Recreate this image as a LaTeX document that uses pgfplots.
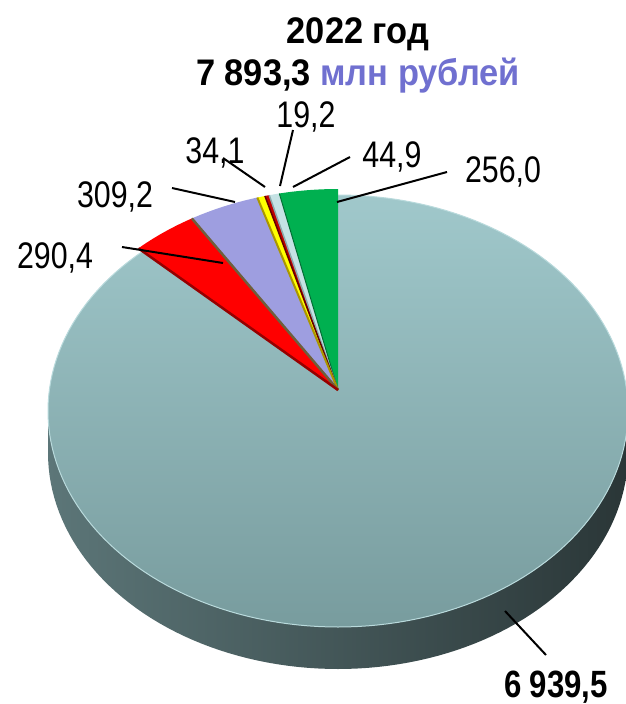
\documentclass[border=0pt]{standalone}
\usepackage{pgfplots}
\pgfplotsset{compat=1.18}
\usepackage{fontspec}
\setmainfont{Liberation Sans}[FakeStretch=0.82]
\newfontfamily\titlefont{Liberation Sans}[FakeStretch=0.93]
\definecolor{topT}{RGB}{160,200,203}
\definecolor{topB}{RGB}{120,156,158}
\definecolor{rim}{RGB}{185,218,220}
\definecolor{sideL}{RGB}{92,118,120}
\definecolor{sideM}{RGB}{46,59,60}
\definecolor{sideR}{RGB}{42,54,55}
\definecolor{cGreen}{RGB}{0,176,80}
\definecolor{eGreen}{RGB}{0,110,50}
\definecolor{cLight}{RGB}{197,226,228}
\definecolor{eLight}{RGB}{140,170,172}
\definecolor{cDRed}{RGB}{192,0,0}
\definecolor{eDRed}{RGB}{100,0,0}
\definecolor{cYel}{RGB}{255,255,0}
\definecolor{eYel}{RGB}{170,150,0}
\definecolor{cLav}{RGB}{158,158,224}
\definecolor{eLav}{RGB}{110,95,60}
\definecolor{cRed}{RGB}{255,0,0}
\definecolor{eRed}{RGB}{150,0,0}
\definecolor{titleblue}{RGB}{112,112,208}
\begin{document}
\begin{tikzpicture}
% values (counter-clockwise from 12 o'clock)
\def\vA{256.0}\def\vB{44.9}\def\vC{19.2}\def\vD{34.1}\def\vE{309.2}\def\vF{290.4}\def\vG{6939.5}
\pgfmathsetmacro\total{\vA+\vB+\vC+\vD+\vE+\vF+\vG}
\pgfmathsetmacro\aA{90}
\pgfmathsetmacro\aB{\aA+(\vA/\total)*360}
\pgfmathsetmacro\aC{\aB+(\vB/\total)*360}
\pgfmathsetmacro\aD{\aC+(\vC/\total)*360}
\pgfmathsetmacro\aE{\aD+(\vD/\total)*360}
\pgfmathsetmacro\aF{\aE+(\vE/\total)*360}
\pgfmathsetmacro\aG{\aF+(\vF/\total)*360}
\begin{axis}[name=ax,width=625pt,height=704pt,scale only axis,
  xmin=0,xmax=625,ymin=0,ymax=704,y dir=reverse,hide axis,clip=false]
% side of the big slice
\addplot[draw=none,left color=sideL,middle color=sideM,right color=sideR,
  domain=0:360,samples=181,variable=\s]
  ({338+290*cos(ifthenelse(\s<=180,180+\s,540-\s))},
   {411-216*sin(ifthenelse(\s<=180,180+\s,540-\s))+42*(\s>180)}) -- cycle;
% top face of big slice
\addplot[draw=rim,line width=1pt,top color=topT,bottom color=topB,
  domain=0:360,samples=181] ({338+290*cos(x)},{411-216*sin(x)}) -- cycle;
% small slices
\addplot[fill=cGreen,draw=none,domain=\aA:\aB,samples=20] ({338+290*cos(x)},{405-216*sin(x)}) -- (axis cs:338,390) -- cycle;
\addplot[fill=cLight,draw=none,domain=\aB:\aC,samples=6] ({338+290*cos(x)},{405-216*sin(x)}) -- (axis cs:338,390) -- cycle;
\addplot[fill=cDRed,draw=none,domain=\aC:\aD,samples=4] ({338+290*cos(x)},{405-216*sin(x)}) -- (axis cs:338,390) -- cycle;
\addplot[fill=cYel,draw=none,domain=\aD:\aE,samples=4] ({338+290*cos(x)},{405-216*sin(x)}) -- (axis cs:338,390) -- cycle;
\addplot[fill=cLav,draw=none,domain=\aE:\aF,samples=20] ({338+290*cos(x)},{405-216*sin(x)}) -- (axis cs:338,390) -- cycle;
\addplot[fill=cRed,draw=none,domain=\aF:\aG,samples=20] ({338+290*cos(x)},{405-216*sin(x)}) -- (axis cs:338,390) -- cycle;
% dark side edges of small slices
\addplot[draw=eGreen,line width=1pt,domain=0:1,samples=2] ({338+x*290*cos(\aB)},{390+x*(15-216*sin(\aB))});
\addplot[draw=eLight,line width=1.5pt,domain=0:1,samples=2] ({338+x*290*cos(\aC)},{390+x*(15-216*sin(\aC))});
\addplot[draw=eDRed,line width=1.5pt,domain=0:1,samples=2] ({338+x*290*cos(\aD)},{390+x*(15-216*sin(\aD))});
\addplot[draw=eYel,line width=2pt,domain=0:1,samples=2] ({338+x*290*cos(\aE)},{390+x*(15-216*sin(\aE))});
\addplot[draw=eLav,line width=2.5pt,domain=0:1,samples=2] ({338+x*290*cos(\aF)},{390+x*(15-216*sin(\aF))});
\addplot[draw=eRed,line width=2.5pt,domain=0:1,samples=2] ({338+x*290*cos(\aG)},{390+x*(15-216*sin(\aG))});
% leader lines
\addplot[black,line width=2pt] coordinates {(122,247) (223,263)};
\addplot[black,line width=2pt] coordinates {(172,188) (235,202)};
\addplot[black,line width=2pt] coordinates {(223,158) (265,187)};
\addplot[black,line width=2pt] coordinates {(293,130) (280,186)};
\addplot[black,line width=2pt] coordinates {(350,157) (293,187)};
\addplot[black,line width=2pt] coordinates {(447,172) (337,202)};
\addplot[black,line width=2pt] coordinates {(505,611) (546,655)};
% labels
\begin{scope}[every node/.style={inner sep=0pt,anchor=base,font=\fontsize{37}{40}\selectfont}]
\node at (axis cs:55,268) {290,4};
\node at (axis cs:115,207) {309,2};
\node at (axis cs:215,163) {34,1};
\node at (axis cs:306,127) {19,2};
\node at (axis cs:392,167) {44,9};
\node at (axis cs:503,182) {256,0};
\node[font=\fontsize{38}{40}\selectfont\bfseries] at (axis cs:556,697) {6 939,5};
\node[font=\titlefont\fontsize{37}{40}\selectfont\bfseries] at (axis cs:358,43) {2022 год};
\node[font=\titlefont\fontsize{37}{40}\selectfont\bfseries] at (axis cs:358,85) {7 893,3 \textcolor{titleblue}{млн рублей}};
\end{scope}
\end{axis}
\pgfresetboundingbox
\useasboundingbox (ax.south west) rectangle (ax.north east);
\end{tikzpicture}
\end{document}
